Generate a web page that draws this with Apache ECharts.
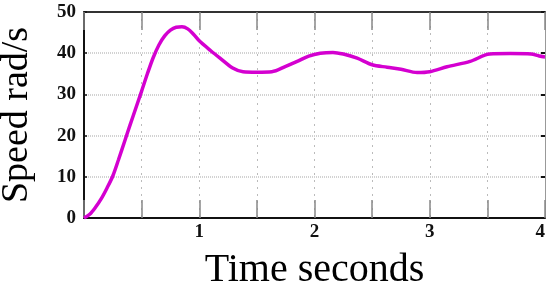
<!DOCTYPE html>
<html lang="en">
  <head>
    <meta charset="UTF-8" />
    <title>Speed response</title>
    <script src="https://cdn.jsdelivr.net/npm/echarts@6/dist/echarts.min.js"></script>
    <style>
      html, body { margin: 0; padding: 0; background: #fff; }
      .echarts { width: 550px; height: 285px; }
    </style>
  </head>
  <body>
    <div class="echarts"></div>
    <script>
        // time (s) and speed (rad/s)
        const time = [0, 0.05, 0.1, 0.15, 0.2, 0.25, 0.3, 0.35, 0.4, 0.45, 0.5, 0.55, 0.6, 0.65, 0.7, 0.75, 0.8, 0.85, 0.9, 0.95,
            1.0, 1.1, 1.18, 1.29, 1.38, 1.5, 1.63, 1.75, 1.85, 1.95, 2.05, 2.16, 2.25, 2.37, 2.5, 2.63, 2.75, 2.89, 3.0,
            3.15, 3.35, 3.52, 3.7, 3.88, 3.95, 4.0]
        const speed = [0, 0.9, 2.6, 4.7, 7.3, 10.2, 14.2, 18.4, 22.6, 26.7, 30.8, 35, 38.9, 42, 44.2, 45.6, 46.3, 46.4, 45.9, 44.6,
            43, 40.6, 38.8, 36.4, 35.5, 35.4, 35.5, 36.8, 38, 39.3, 40, 40.2, 39.8, 38.8, 37.2, 36.6, 36.1, 35.3, 35.5,
            36.7, 38, 39.8, 39.9, 39.8, 39.3, 39.1]
        const xTicks = [1, 2, 3, 4]

        const serif = '"Liberation Serif", "DejaVu Serif", serif'
        const myCharts = echarts.init(document.querySelector('.echarts'))

        const option = {
            animation: false,
            grid: { left: 84, right: 5, top: 12, bottom: 67, outerBoundsMode: 'none' },
            xAxis: [
                {
                    type: 'value', min: 0, max: 4, interval: 0.5, position: 'bottom',
                    name: 'Time seconds', nameLocation: 'middle', nameGap: 32,
                    nameTextStyle: { fontFamily: serif, fontSize: 40, color: '#000' },
                    axisLine: { onZero: false, lineStyle: { color: '#111', width: 2 } },
                    axisTick: { inside: true, length: 18, lineStyle: { color: '#888', width: 1.5 } },
                    axisLabel: {
                        fontFamily: serif, fontSize: 19, fontWeight: 'bold', color: '#111', margin: 5,
                        alignMaxLabel: 'right',
                        formatter: (v) => (xTicks.includes(v) ? String(v) : '')
                    },
                    splitLine: { show: true, lineStyle: { color: '#bbb', type: [2, 5], width: 1 } }
                },
                {
                    type: 'value', min: 0, max: 4, interval: 0.5, position: 'top',
                    axisLine: { onZero: false, lineStyle: { color: '#333', width: 2 } },
                    axisTick: { inside: true, length: 18, lineStyle: { color: '#888', width: 1.5 } },
                    axisLabel: { show: false },
                    splitLine: { show: false }
                }
            ],
            yAxis: [
                {
                    type: 'value', min: 0, max: 50, interval: 10, position: 'left',
                    name: 'Speed rad/s', nameLocation: 'middle', nameGap: 48,
                    nameTextStyle: { fontFamily: serif, fontSize: 38, color: '#000' },
                    axisLine: { show: true, onZero: false, lineStyle: { color: '#111', width: 2 } },
                    axisTick: { show: true, inside: true, length: 3, lineStyle: { color: '#111', width: 1.5 } },
                    axisLabel: { fontFamily: serif, fontSize: 19, fontWeight: 'bold', color: '#111', margin: 8 },
                    splitLine: { show: true, lineStyle: { color: '#c4c4c4', type: [1, 1], width: 1.5 } }
                },
                {
                    type: 'value', min: 0, max: 50, interval: 10, position: 'right',
                    axisLine: { show: true, onZero: false, lineStyle: { color: '#999', width: 1 } },
                    axisTick: { show: true, inside: true, length: 4, lineStyle: { color: '#111', width: 2 } },
                    axisLabel: { show: false },
                    splitLine: { show: false }
                }
            ],
            series: [
                {
                    type: 'line',
                    data: time.map((t, i) => [t, speed[i]]),
                    showSymbol: false,
                    smooth: 0.3,
                    lineStyle: { color: '#d400d0', width: 3.5 }
                }
            ]
        }

        myCharts.setOption(option)
    </script>
  </body>
</html>
